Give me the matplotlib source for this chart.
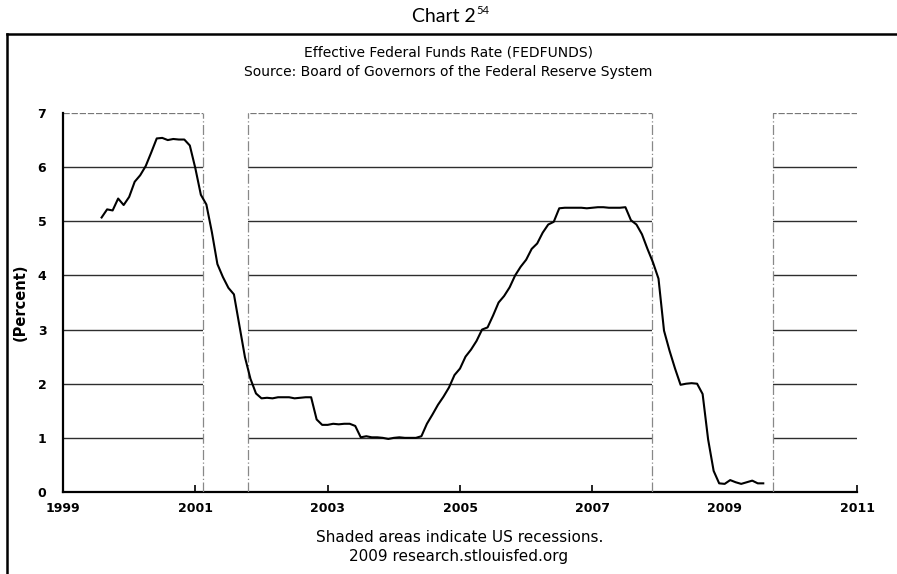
import matplotlib.pyplot as plt
from matplotlib.lines import Line2D
import numpy as np

# Monthly effective fed funds rate, Aug 1999 - Aug 2009 (percent)
start_year = 1999
start_month = 8
rates = [
    5.07, 5.22, 5.20, 5.42, 5.30,                                       # 1999
    5.45, 5.73, 5.85, 6.02, 6.27, 6.53, 6.54, 6.50, 6.52, 6.51, 6.51, 6.40,  # 2000
    5.98, 5.49, 5.31, 4.80, 4.21, 3.97, 3.77, 3.65, 3.07, 2.49, 2.09, 1.82,  # 2001
    1.73, 1.74, 1.73, 1.75, 1.75, 1.75, 1.73, 1.74, 1.75, 1.75, 1.34, 1.24,  # 2002
    1.24, 1.26, 1.25, 1.26, 1.26, 1.22, 1.01, 1.03, 1.01, 1.01, 1.00, 0.98,  # 2003
    1.00, 1.01, 1.00, 1.00, 1.00, 1.03, 1.26, 1.43, 1.61, 1.76, 1.93, 2.16,  # 2004
    2.28, 2.50, 2.63, 2.79, 3.00, 3.04, 3.26, 3.50, 3.62, 3.78, 4.00, 4.16,  # 2005
    4.29, 4.49, 4.59, 4.79, 4.94, 4.99, 5.24, 5.25, 5.25, 5.25, 5.25, 5.24,  # 2006
    5.25, 5.26, 5.26, 5.25, 5.25, 5.25, 5.26, 5.02, 4.94, 4.76, 4.49, 4.24,  # 2007
    3.94, 2.98, 2.61, 2.28, 1.98, 2.00, 2.01, 2.00, 1.81, 0.97, 0.39, 0.16,  # 2008
    0.15, 0.22, 0.18, 0.15, 0.18, 0.21, 0.16, 0.16,                          # 2009
]
# Recession bands as drawn (decimal years)
recession_starts = [2001.12, 2007.90]
recession_ends = [2001.79, 2009.73]

x_ticks = [1999, 2001, 2003, 2005, 2007, 2009, 2011]
y_ticks = [0, 1, 2, 3, 4, 5, 6, 7]

x = start_year + (start_month - 1) / 12 + np.arange(len(rates)) / 12

fig = plt.figure(figsize=(8.97, 5.74), dpi=100)
ax = fig.add_axes([63 / 897, 1 - 492 / 574, 794 / 897, 379 / 574])

# horizontal grid lines (top one lighter, like the scan)
for yv in y_ticks[1:-1]:
    ax.axhline(yv, color='#2e2e2e', lw=1.0, zorder=1)
ax.axhline(y_ticks[-1], color='#777777', lw=0.9, ls=(0, (5, 1.5)), zorder=1)

# recession bands (blank white with dash-dot edges)
for s, e in zip(recession_starts, recession_ends):
    ax.axvspan(s, e, color='white', zorder=2, lw=0)
    for xv in (s, e):
        ax.axvline(xv, color='#888888', lw=0.9, ls=(0, (8, 2, 1, 2)), zorder=3)

ax.plot(x, rates, color='black', lw=1.5, zorder=4)

ax.set_xlim(1999, 2011)
ax.set_ylim(0, 7)
ax.set_xticks(x_ticks)
ax.set_yticks(y_ticks)
ax.tick_params(axis='x', direction='in', length=5, width=1.2, pad=7, labelsize=9)
ax.tick_params(axis='y', length=0, pad=12, labelsize=9)
for lab in ax.get_xticklabels() + ax.get_yticklabels():
    lab.set_fontweight('bold')

for side in ('top', 'right'):
    ax.spines[side].set_visible(False)
ax.spines['left'].set_linewidth(1.6)
ax.spines['bottom'].set_linewidth(1.6)

ax.set_ylabel('(Percent)', fontsize=10.5, fontweight='bold')
ax.yaxis.set_label_coords(-0.044, 0.5)

# outer frame of the scanned figure
fig.add_artist(Line2D([7 / 897, 7 / 897], [0, 1 - 34 / 574], color='black', lw=1.8))
fig.add_artist(Line2D([7 / 897, 1], [1 - 34 / 574, 1 - 34 / 574], color='black', lw=1.8))

fig.text(476 / 897, 1 - 17 / 574, 'Chart 2', ha='right', va='center',
         fontsize=14, family='Lato')
fig.text(476 / 897, 1 - 11 / 574, '54', ha='left', va='center',
         fontsize=8, family='Lato')

fig.text(0.5, 1 - 52 / 574, 'Effective Federal Funds Rate (FEDFUNDS)',
         ha='center', va='center', fontsize=10)
fig.text(0.5, 1 - 72 / 574, 'Source: Board of Governors of the Federal Reserve System',
         ha='center', va='center', fontsize=10)
fig.text(460 / 897, 1 - 538 / 574, 'Shaded areas indicate US recessions.',
         ha='center', va='center', fontsize=11)
fig.text(459 / 897, 1 - 557 / 574, '2009 research.stlouisfed.org',
         ha='center', va='center', fontsize=11)

fig.savefig('out.png', dpi=100)
